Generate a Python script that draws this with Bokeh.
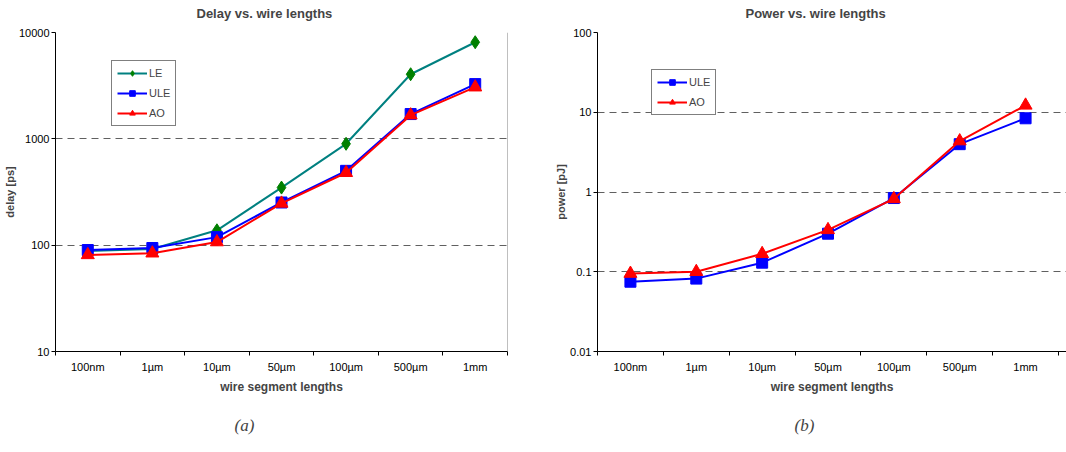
from bokeh.plotting import figure
from bokeh.models import (Range1d, FixedTicker, Legend, LegendItem, Span, Title)
from bokeh.layouts import row
from bokeh.embed import file_html
from bokeh.resources import INLINE

categories = ["100nm", "1µm", "10µm", "50µm", "100µm", "500µm", "1mm"]
delay_le = [88, 92, 138, 348, 898, 4050, 8100]
delay_ule = [90, 94, 119, 252, 500, 1710, 3270]
delay_ao = [81, 84, 107, 247, 480, 1670, 3060]
power_ule = [0.075, 0.082, 0.13, 0.30, 0.84, 3.98, 8.4]
power_ao = [0.095, 0.10, 0.168, 0.335, 0.82, 4.35, 12.2]
delay_ticks = [10, 100, 1000, 10000]
power_ticks = [0.01, 0.1, 1, 10, 100]

FONT = "Liberation Sans"
xs = [i + 0.5 for i in range(len(categories))]


def make_fig(width, title, ylabel, yticks, x_end, border_left, border_right,
             title_offset, sub, sub_offset):
    p = figure(width=width, height=460, y_axis_type="log",
               x_range=Range1d(0, x_end), y_range=Range1d(yticks[0], yticks[-1]),
               output_backend="svg", toolbar_location=None,
               min_border_left=border_left, min_border_right=border_right,
               min_border_top=38, min_border_bottom=101, margin=(-8, 0, 0, 0))
    p.outline_line_color = None
    p.background_fill_color = "white"
    p.border_fill_color = "white"
    p.title.text = title
    p.title.text_font = FONT
    p.title.text_font_size = "13px"
    p.title.text_font_style = "bold"
    p.title.align = "left"
    p.title.offset = title_offset
    p.title.standoff = 23
    # x axis
    xa = p.xaxis[0]
    xa.ticker = FixedTicker(ticks=xs, minor_ticks=list(range(len(categories) + 1)))
    xa.major_label_overrides = {x: c for x, c in zip(xs, categories)}
    xa.major_tick_out = 0
    xa.major_tick_in = 0
    xa.minor_tick_out = 4
    xa.minor_tick_in = 0
    xa.major_label_text_font = FONT
    xa.major_label_text_font_size = "11px"
    xa.major_label_text_color = "black"
    xa.major_label_standoff = 5
    xa.axis_label = "wire segment lengths"
    xa.axis_label_text_font = FONT
    xa.axis_label_text_font_size = "12px"
    xa.axis_label_text_font_style = "bold"
    xa.axis_label_standoff = 4
    xa.axis_line_color = "black"
    # y axis
    ya = p.yaxis[0]
    ya.ticker = FixedTicker(ticks=yticks, minor_ticks=[])
    ya.major_label_overrides = {t: str(t) for t in yticks}
    ya.major_tick_out = 4
    ya.major_tick_in = 0
    ya.minor_tick_out = 0
    ya.minor_tick_in = 0
    ya.major_label_text_font = FONT
    ya.major_label_text_font_size = "11px"
    ya.major_label_text_color = "black"
    ya.major_label_standoff = 2
    ya.axis_label = ylabel
    ya.axis_label_text_font = FONT
    ya.axis_label_text_font_size = "11px"
    ya.axis_label_text_font_style = "bold"
    ya.axis_label_standoff = 0
    ya.axis_line_color = "black"
    # grid
    p.xgrid.grid_line_color = None
    p.ygrid.grid_line_color = "#606060"
    p.ygrid.grid_line_dash = "7 5"
    p.ygrid.grid_line_width = 1
    p.ygrid.minor_grid_line_color = None
    # (a)/(b) caption under the chart
    cap = Title(text=sub, align="left", offset=sub_offset, standoff=34,
                text_font="Liberation Serif", text_font_style="italic",
                text_font_size="17px")
    p.add_layout(cap, "below")
    return p


def add_series(p, ys, line_color, marker, marker_color, size):
    ln = p.line(xs, ys, line_color=line_color, line_width=2)
    sc = p.scatter(xs, ys, marker=marker, size=size, fill_color=marker_color,
                   line_color=marker_color)
    return [ln, sc]


def add_legend(p, items, x, y):
    lg = Legend(items=items, location=(x, y), border_line_color="black",
                border_line_width=1, background_fill_color="white",
                background_fill_alpha=1, label_text_font=FONT,
                label_text_font_size="11px", glyph_width=30, glyph_height=14,
                spacing=6, padding=5, margin=0, label_standoff=2)
    p.add_layout(lg)


left = make_fig(530, "Delay vs. wire lengths", "delay [ps]", delay_ticks, 7,
                52, 23, 141, "(a)", 179)
r_le = add_series(left, delay_le, "#008080", "diamond", "#008000", 13)
r_ule = add_series(left, delay_ule, "#0000FF", "square", "#0000FF", 11)
r_ao = add_series(left, delay_ao, "#FF0000", "triangle", "#FF0000", 13)
left.add_layout(Span(location=7, dimension="height", line_color="#808080", line_width=1))
add_legend(left, [LegendItem(label="LE", renderers=r_le),
                  LegendItem(label="ULE", renderers=r_ule),
                  LegendItem(label="AO", renderers=r_ao)], 56, 225)

right = make_fig(536, "Power vs. wire lengths", "power [pJ]", power_ticks, 7 * 469 / 461,
                 67, 0, 148, "(b)", 197)
p_ule = add_series(right, power_ule, "#0000FF", "square", "#0000FF", 11)
p_ao = add_series(right, power_ao, "#FF0000", "triangle", "#FF0000", 13)
add_legend(right, [LegendItem(label="ULE", renderers=p_ule),
                   LegendItem(label="AO", renderers=p_ao)], 54, 236)

layout = row(left, right, spacing=0)
open("out.html", "w").write(file_html(layout, INLINE))
